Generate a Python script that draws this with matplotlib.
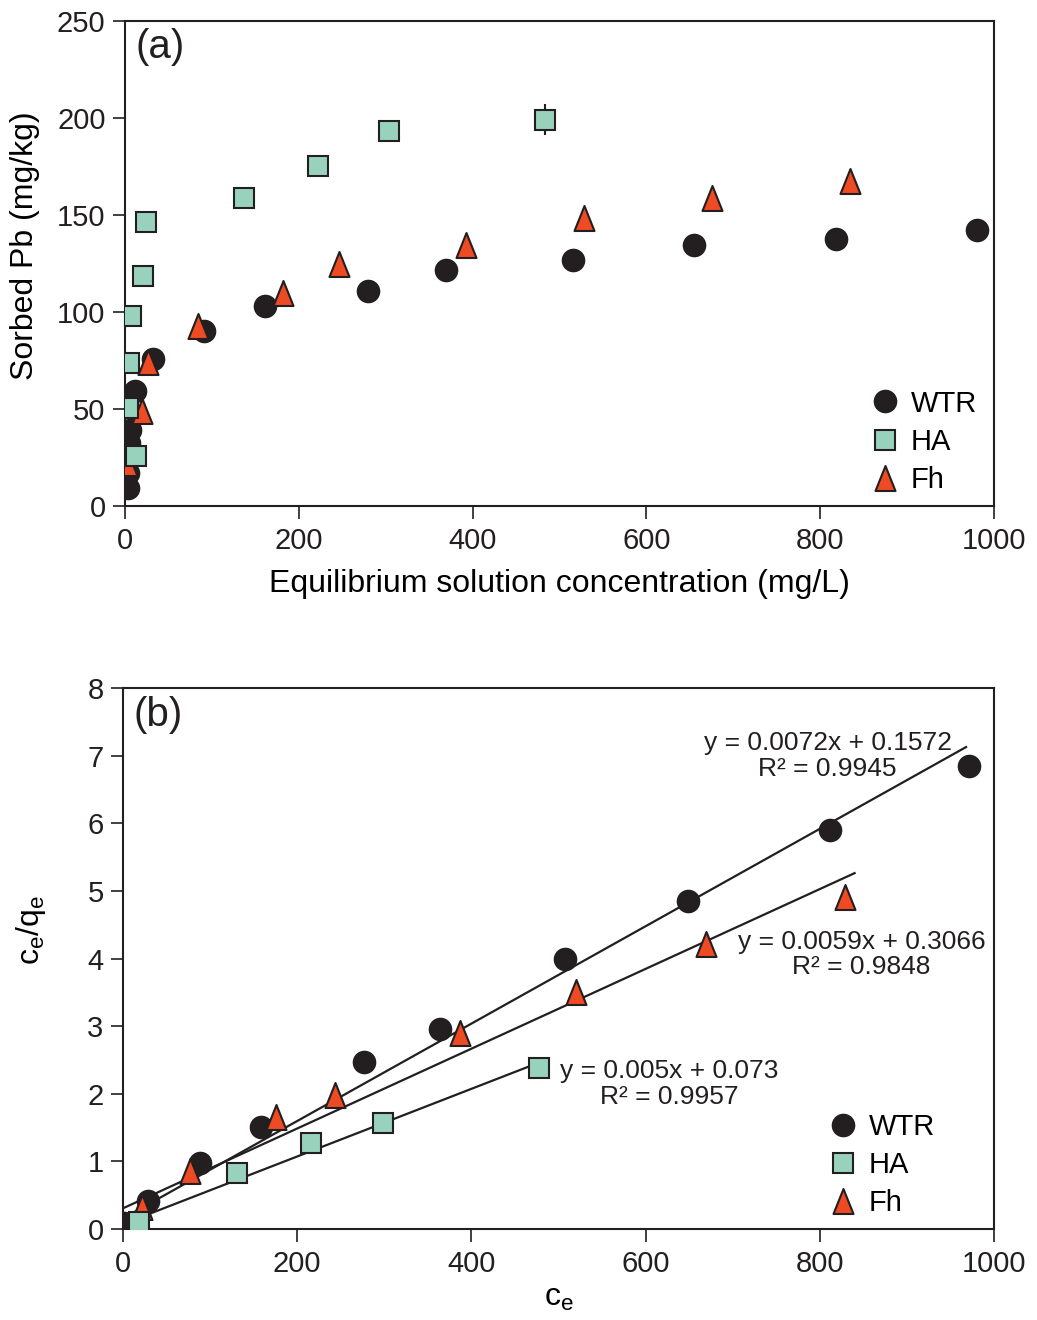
import matplotlib
matplotlib.use("Agg")
import matplotlib.pyplot as plt
import numpy as np
from matplotlib.path import Path

plt.rcParams['font.family'] = ['Liberation Sans', 'DejaVu Sans']
plt.rcParams['mathtext.default'] = 'regular'

# ---------------- Panel (a) data: sorption isotherms ----------------
wtr_ce = [980, 818, 655, 516, 369, 280, 161, 91, 32, 11.5, 5.8, 4.6, 3.5, 3.5]
wtr_q = [142.3, 137.6, 134.5, 126.8, 121.6, 110.8, 103.1, 90.2, 75.8, 59.3, 39.2, 32.5, 17.0, 9.3]

ha_ce = [483, 304, 222, 137, 24, 20.7, 7, 4.6, 3.5, 12.7]
ha_q = [199, 193.3, 175.3, 158.8, 146.4, 118.6, 97.9, 73.7, 50.5, 25.8]
ha_err = [8, 0, 0, 0, 0, 0, 0, 0, 0, 0]

fh_ce = [834, 675, 528, 392, 246, 182, 84, 26, 19.5, 2]
fh_q = [167.5, 158.8, 148.5, 134.5, 124.7, 109.8, 92.8, 74.2, 49, 22]

# ---------------- Panel (b) data: Langmuir linearisation ----------------
wtr_ce_b = [971, 812, 649, 507, 364, 277, 158, 88, 29, 1]
wtr_r_b = [6.85, 5.90, 4.85, 3.99, 2.96, 2.47, 1.51, 0.98, 0.41, 0.09]

ha_ce_b = [478, 298, 216, 131, 18]
ha_r_b = [2.38, 1.57, 1.27, 0.83, 0.10]

fh_ce_b = [829, 669, 520, 387, 243, 176, 77, 22]
fh_r_b = [4.91, 4.22, 3.51, 2.90, 1.98, 1.66, 0.86, 0.32]

# Fitted lines (slope, intercept, x-extent, label text, text position)
fits = {
    'WTR': (0.0072, 0.1572, 968, "y = 0.0072x + 0.1572\nR\u00b2 = 0.9945", (809, 7.0)),
    'Fh': (0.0059, 0.3066, 840, "y = 0.0059x + 0.3066\nR\u00b2 = 0.9848", (848, 4.06)),
    'HA': (0.005, 0.073, 478, "y = 0.005x + 0.073\nR\u00b2 = 0.9957", (627, 2.15)),
}

dark = '#231f20'
teal = '#99d2bc'
red = '#ee4a23'
tri = Path([(-0.8, -1.0), (0.8, -1.0), (0.0, 1.0), (-0.8, -1.0)],
           [Path.MOVETO, Path.LINETO, Path.LINETO, Path.CLOSEPOLY])

fig = plt.figure(figsize=(10.37, 13.2), dpi=100)
ax1 = fig.add_axes([0.1205, 0.6167, 0.838, 0.3674])
ax2 = fig.add_axes([0.1186, 0.0689, 0.8399, 0.4099])

tick_fs = 21
lab_fs = 23

def style(ax):
    for s in ax.spines.values():
        s.set_linewidth(1.5)
        s.set_color(dark)
    ax.tick_params(direction='out', length=9, width=1.2, colors=dark,
                   labelsize=tick_fs, labelcolor='#231f20')
    ax.tick_params(axis='x', pad=6)
    ax.tick_params(axis='y', pad=5)

mk = dict(linestyle='none', markeredgecolor=dark, markeredgewidth=1.5)

# ---- Panel (a)
ax1.plot(wtr_ce, wtr_q, marker='o', markersize=15.5, markerfacecolor=dark, label='WTR', zorder=3, **mk)
ax1.errorbar(ha_ce, ha_q, yerr=ha_err, fmt='none', ecolor=dark, elinewidth=1.5, capsize=0, zorder=2)
ax1.plot(ha_ce, ha_q, marker='s', markersize=14.5, markerfacecolor=teal, label='HA', zorder=4, **mk)
ax1.plot(fh_ce, fh_q, marker=tri, markersize=18, markerfacecolor=red, label='Fh', zorder=3.5, **mk)
ax1.set_xlim(0, 1000)
ax1.set_ylim(0, 250)
ax1.set_xticks([0, 200, 400, 600, 800, 1000])
ax1.set_yticks([0, 50, 100, 150, 200, 250])
style(ax1)
ax1.set_xlabel('Equilibrium solution concentration (mg/L)', fontsize=lab_fs, labelpad=10)
ax1.set_ylabel('Sorbed Pb (mg/kg)', fontsize=lab_fs)
ax1.yaxis.set_label_coords(-0.098, 0.536)
ax1.text(0.012, 0.985, '(a)', transform=ax1.transAxes, fontsize=29, va='top', ha='left', color=dark)
ax1.legend(loc='upper left', bbox_to_anchor=(0.8575, 0.24), frameon=False, fontsize=21,
           handlelength=1.0, handletextpad=0.4, labelspacing=0.35, borderpad=0, borderaxespad=0)

# ---- Panel (b)
for key in ['WTR', 'Fh', 'HA']:
    m, b, xe, txt, pos = fits[key]
    xs = np.array([0, xe])
    ax2.plot(xs, m * xs + b, color=dark, linewidth=1.6, zorder=2)
    ax2.text(pos[0], pos[1], txt, fontsize=19, ha='center', va='center', color=dark,
             multialignment='center', linespacing=1.1)
ax2.plot(wtr_ce_b, wtr_r_b, marker='o', markersize=15.5, markerfacecolor=dark, label='WTR', zorder=3, **mk)
ax2.plot(ha_ce_b, ha_r_b, marker='s', markersize=14.5, markerfacecolor=teal, label='HA', zorder=4, **mk)
ax2.plot(fh_ce_b, fh_r_b, marker=tri, markersize=18, markerfacecolor=red, label='Fh', zorder=3.5, **mk)
ax2.set_xlim(0, 1000)
ax2.set_ylim(0, 8)
ax2.set_xticks([0, 200, 400, 600, 800, 1000])
ax2.set_yticks(range(0, 9))
style(ax2)
ax2.set_xlabel('$c_e$', fontsize=lab_fs, labelpad=4)
ax2.set_ylabel('$c_e/q_e$', fontsize=lab_fs)
ax2.yaxis.set_label_coords(-0.086, 0.553)
ax2.text(0.012, 0.985, '(b)', transform=ax2.transAxes, fontsize=29, va='top', ha='left', color=dark)
ax2.legend(loc='upper left', bbox_to_anchor=(0.8095, 0.215), frameon=False, fontsize=21,
           handlelength=1.0, handletextpad=0.4, labelspacing=0.35, borderpad=0, borderaxespad=0)

fig.savefig('out.png', dpi=100)
